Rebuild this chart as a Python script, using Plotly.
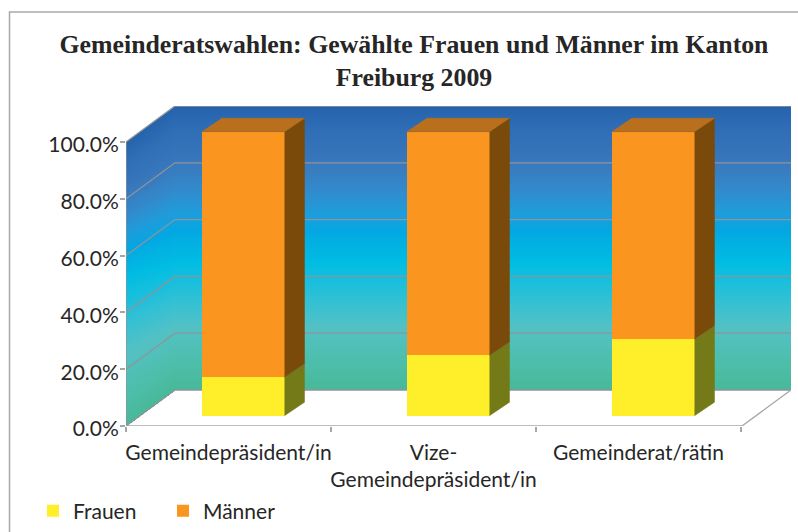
import numpy as np
import plotly.graph_objects as go

categories = ["Gemeindepräsident/in", "Vize-<br>Gemeindepräsident/in", "Gemeinderat/rätin"]
frauen = [13.6, 21.3, 27.0]
maenner = [86.4, 78.7, 73.0]
y_ticks = [0, 20, 40, 60, 80, 100]
y_tick_labels = ["0.0%", "20.0%", "40.0%", "60.0%", "80.0%", "100.0%"]

W, H = 798, 532
L, R, T, B = 126, 791, 106, 426          # plot box in pixels
PX_PER_CAT = 205.0
PX_PER_PCT = 2.84
x_rng = [-0.5, -0.5 + (R - L) / PX_PER_CAT]
y_rng = [0, (B - T) / PX_PER_PCT]
WALL_DX = 49 / PX_PER_CAT
WALL_DY = 36 / PX_PER_PCT
BAR_SHIFT_X = 14.5 / PX_PER_CAT
BAR_SHIFT_Y = 10.3 / PX_PER_PCT
BAR_W = 83 / PX_PER_CAT
BAR_DX = 20 / PX_PER_CAT
BAR_DY = 13.5 / PX_PER_PCT
GRID = "#8f9499"
AXIS = "#a6a6a6"
YEL, ORA = "#FFEF2B", "#FA9620"
YEL_SIDE, ORA_SIDE, ORA_TOP = "#757A19", "#7A4A0A", "#B96F1B"

stops_pos = [0, .07, .20, .30, .38, .44, .55, .68, .78, .90, 1]
stops_rgb = np.array([
    [37, 99, 172], [46, 109, 181], [58, 120, 188], [50, 140, 205], [30, 158, 220], [4, 168, 226],
    [0, 189, 227], [48, 193, 214], [84, 194, 197], [78, 191, 172], [72, 185, 152]], float)


def wall_color(s):
    return "rgb(%d,%d,%d)" % tuple(np.interp(s, stops_pos, stops_rgb[:, i]) for i in range(3))


def left_param(s):
    return np.interp(s, [0, .55, 1], [0, .475, 1])


shapes = []
N = 90
xl, xb, xr = x_rng[0], x_rng[0] + WALL_DX, x_rng[1]
for i in range(N):
    s0 = i / N
    c = wall_color((i + .5) / N)
    yb0 = 100 + WALL_DY - 100 * s0
    yb1 = WALL_DY
    # back wall slice (each slice reaches to the floor, the next paints over it)
    shapes.append(dict(type="path", xref="x", yref="y", layer="below", fillcolor=c, line_width=0,
                       path=f"M{xb},{yb0}L{xr},{yb0}L{xr},{yb1}L{xb},{yb1}Z"))
    yl0 = 100 - 100 * left_param(s0)
    shapes.append(dict(type="path", xref="x", yref="y", layer="below", fillcolor=c, line_width=0,
                       path=f"M{xl},{yl0}L{xb},{yb0}L{xb},{yb1}L{xl},0Z"))
shapes.append(dict(type="rect", xref="paper", yref="paper", x0=9.5 / W, x1=1.05, y0=-0.05, y1=1 - 12 / H,
                   line=dict(color="#a9a9a9", width=1.5), layer="below"))

fig = go.Figure()


def line(xs, ys, color, width=1.3):
    fig.add_trace(go.Scatter(x=xs, y=ys, mode="lines", line=dict(color=color, width=width),
                             showlegend=False, hoverinfo="skip", cliponaxis=False))


for v in y_ticks[1:]:
    line([xl, xb, xr], [v, v + WALL_DY, v + WALL_DY], GRID)
line([xl, xb, xr], [0, WALL_DY, WALL_DY], GRID)
line([xl, xl], [0, 100], GRID)
line([xr - WALL_DX, xr], [0, WALL_DY], AXIS)
line([xl, xr - WALL_DX], [0, 0], AXIS, 1.5)

fig.add_trace(go.Bar(x=list(range(3)), y=frauen, name="Frauen", width=BAR_W, marker=dict(color=YEL, line_width=0),
                     xaxis="x2", yaxis="y2"))
fig.add_trace(go.Bar(x=list(range(3)), y=maenner, name="Männer", width=BAR_W, marker=dict(color=ORA, line_width=0),
                     xaxis="x2", yaxis="y2"))


def face(xs, ys, color):
    fig.add_trace(go.Scatter(x=xs, y=ys, mode="lines", fill="toself", fillcolor=color, line=dict(color=color, width=0.5),
                             xaxis="x2", yaxis="y2", showlegend=False, hoverinfo="skip"))


for i in range(3):
    x1 = i + BAR_W / 2
    x0 = i - BAR_W / 2
    f, t = frauen[i], frauen[i] + maenner[i]
    face([x1, x1 + BAR_DX, x1 + BAR_DX, x1], [0, BAR_DY, f + BAR_DY, f], YEL_SIDE)
    face([x1, x1 + BAR_DX, x1 + BAR_DX, x1], [f, f + BAR_DY, t + BAR_DY, t], ORA_SIDE)
    face([x0, x1, x1 + BAR_DX, x0 + BAR_DX], [t, t, t + BAR_DY, t + BAR_DY], ORA_TOP)

font_txt = dict(family="Lato", size=21, color="#262626")
fig.update_layout(
    width=W, height=H, margin=dict(l=0, r=0, t=0, b=0), autosize=False,
    paper_bgcolor="white", plot_bgcolor="white", barmode="stack", shapes=shapes,
    title=dict(text="<b>Gemeinderatswahlen: Gewählte Frauen und Männer im Kanton<br>Freiburg 2009</b>",
               x=414 / W, xanchor="center", y=1 - 52.5 / H, yanchor="middle",
               font=dict(family="Liberation Serif", size=25.8, color="#262626")),
    xaxis=dict(domain=[L / W, R / W], range=x_rng, showgrid=False, zeroline=False, showline=False,
               tickmode="array", tickvals=[0, 1, 2], ticktext=categories, ticks="", tickfont=font_txt,
               ticklabelstandoff=12, tickangle=0, automargin=False,
               minor=dict(tickmode="array", tickvals=[-.5, .5, 1.5, 2.5], ticks="outside", ticklen=5, tickcolor=AXIS,
                          tickwidth=1.5, showgrid=False)),
    yaxis=dict(domain=[1 - B / H, 1 - T / H], range=y_rng, showgrid=False, zeroline=False, showline=False,
               tickmode="array", tickvals=y_ticks, ticktext=y_tick_labels, ticks="outside", ticklen=5, tickcolor=AXIS,
               tickwidth=1.5, tickfont=font_txt, ticklabelstandoff=-3, ticklabelshift=3, automargin=False),
    xaxis2=dict(overlaying="x", domain=[L / W, R / W], anchor="y2", visible=False,
                range=[x_rng[0] - BAR_SHIFT_X, x_rng[1] - BAR_SHIFT_X]),
    yaxis2=dict(overlaying="y", domain=[1 - B / H, 1 - T / H], anchor="x2", visible=False,
                range=[y_rng[0] - BAR_SHIFT_Y, y_rng[1] - BAR_SHIFT_Y]),
    legend=dict(orientation="h", x=33 / W, xanchor="left", y=0.5 / H,
                yanchor="bottom", font=font_txt,
                entrywidth=85, entrywidthmode="pixels", traceorder="normal", bgcolor="rgba(0,0,0,0)"),
)
fig.write_html("out.html", config={"displayModeBar": False},
               post_script="document.body.style.margin='0';document.documentElement.style.overflow='hidden';")
